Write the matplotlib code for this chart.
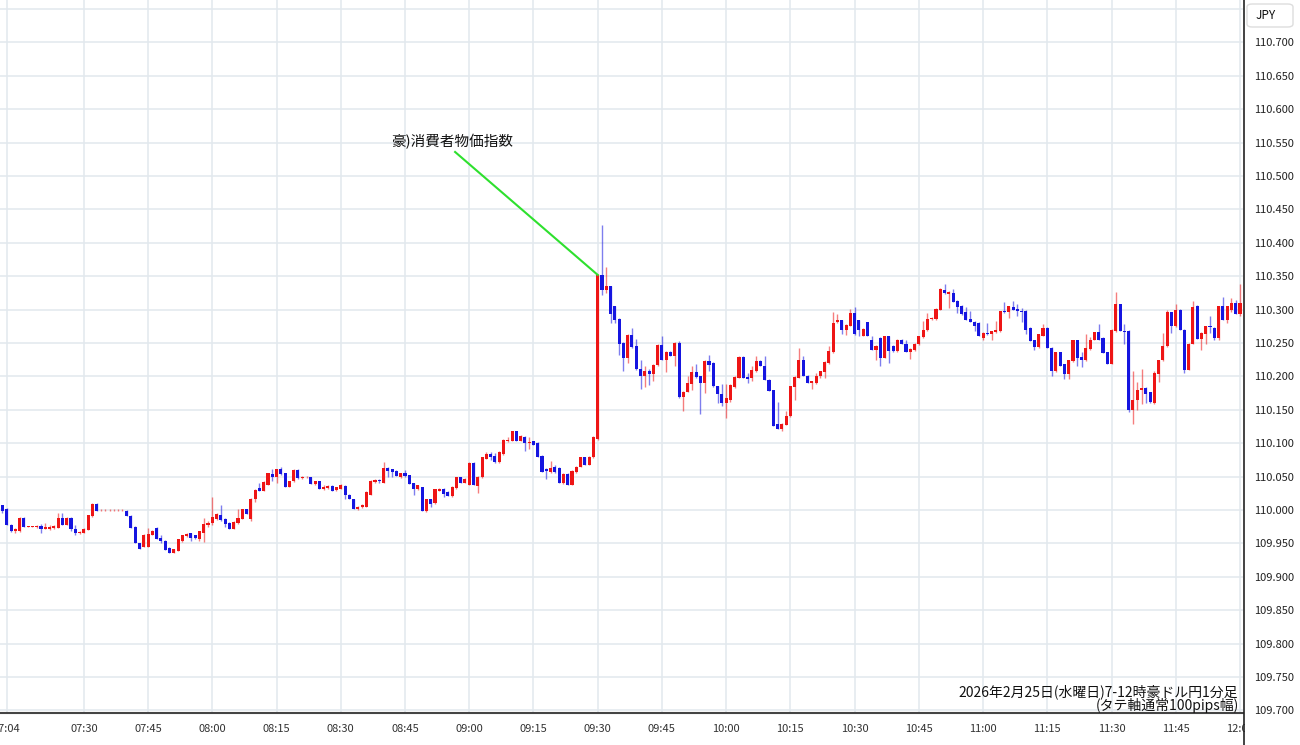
import matplotlib.pyplot as plt
import numpy as np
from matplotlib.lines import Line2D
from matplotlib.patches import FancyBboxPatch, Rectangle

plt.rcParams['font.family'] = ['Noto Sans CJK JP', 'DejaVu Sans']

# 1-minute AUD/JPY candles, first candle = 07:11
opens = [
    110.007, 110.002, 109.978, 109.969, 109.968, 109.988, 109.975, 109.975, 109.975, 109.976,
    109.972, 109.972, 109.973, 109.973, 109.988, 109.978, 109.988, 109.971, 109.965, 109.966,
    109.970, 109.991, 110.009, 110.000, 110.000, 110.000, 110.000, 110.000, 110.000, 109.999,
    109.991, 109.975, 109.950, 109.945, 109.945, 109.963, 109.973, 109.958, 109.954, 109.943,
    109.936, 109.939, 109.953, 109.961, 109.965, 109.962, 109.956, 109.966, 109.977, 109.980,
    109.986, 109.992, 109.987, 109.981, 109.972, 109.980, 109.987, 110.001, 109.987, 110.017,
    110.033, 110.029, 110.038, 110.054, 110.050, 110.061, 110.055, 110.035, 110.043, 110.060,
    110.048, 110.049, 110.049, 110.039, 110.043, 110.031, 110.033, 110.036, 110.030, 110.032,
    110.036, 110.023, 110.016, 110.002, 110.004, 110.005, 110.023, 110.042, 110.044, 110.041,
    110.063, 110.061, 110.059, 110.049, 110.056, 110.052, 110.040, 110.031, 110.034, 109.998,
    110.016, 110.010, 110.029, 110.032, 110.027, 110.021, 110.033, 110.049, 110.041, 110.038,
    110.071, 110.036, 110.049, 110.077, 110.084, 110.081, 110.072, 110.084, 110.103, 110.104,
    110.118, 110.104, 110.110, 110.101, 110.103, 110.101, 110.081, 110.062, 110.057, 110.064,
    110.063, 110.040, 110.054, 110.038, 110.057, 110.065, 110.079, 110.068, 110.079, 110.106,
    110.352, 110.330, 110.335, 110.305, 110.286, 110.250, 110.228, 110.262, 110.245, 110.211,
    110.200, 110.208, 110.204, 110.217, 110.247, 110.225, 110.237, 110.231, 110.250, 110.169,
    110.177, 110.188, 110.207, 110.200, 110.190, 110.223, 110.220, 110.185, 110.174, 110.160,
    110.165, 110.184, 110.198, 110.229, 110.199, 110.198, 110.208, 110.223, 110.215, 110.195,
    110.179, 110.129, 110.122, 110.128, 110.140, 110.184, 110.198, 110.225, 110.201, 110.190,
    110.190, 110.200, 110.206, 110.220, 110.236, 110.281, 110.284, 110.269, 110.276, 110.295,
    110.284, 110.261, 110.281, 110.255, 110.239, 110.258, 110.228, 110.260, 110.246, 110.238,
    110.255, 110.249, 110.236, 110.239, 110.248, 110.259, 110.269, 110.286, 110.286, 110.300,
    110.329, 110.324, 110.325, 110.313, 110.306, 110.296, 110.286, 110.282, 110.280, 110.258,
    110.265, 110.263, 110.266, 110.268, 110.298, 110.296, 110.304, 110.301, 110.298, 110.298,
    110.273, 110.254, 110.244, 110.261, 110.273, 110.243, 110.208, 110.236, 110.218, 110.204,
    110.223, 110.254, 110.229, 110.224, 110.241, 110.255, 110.266, 110.258, 110.236, 110.219,
    110.268, 110.308, 110.268, 110.268, 110.150, 110.164, 110.180, 110.183, 110.176, 110.160,
    110.204, 110.224, 110.245, 110.296, 110.275, 110.300, 110.270, 110.210, 110.249, 110.306,
    110.256, 110.263, 110.275, 110.273, 110.258, 110.305, 110.285, 110.300, 110.310, 110.294,
    110.310,
]
highs = [
    110.008, 110.003, 109.979, 109.973, 109.989, 109.989, 109.976, 109.976, 109.977, 109.979,
    109.980, 109.978, 109.977, 109.996, 109.996, 109.989, 109.989, 109.978, 109.968, 109.973,
    109.993, 110.010, 110.010, 110.001, 110.001, 110.001, 110.001, 110.001, 110.001, 110.000,
    109.992, 109.976, 109.951, 109.964, 109.973, 109.970, 109.974, 109.963, 109.955, 109.944,
    109.942, 109.957, 109.963, 109.965, 109.966, 109.963, 109.969, 109.988, 109.984, 110.020,
    109.995, 110.008, 109.988, 109.982, 109.983, 110.001, 110.002, 110.002, 110.018, 110.031,
    110.041, 110.043, 110.056, 110.061, 110.062, 110.064, 110.056, 110.044, 110.061, 110.061,
    110.051, 110.051, 110.050, 110.044, 110.044, 110.037, 110.037, 110.037, 110.035, 110.039,
    110.037, 110.024, 110.017, 110.006, 110.009, 110.028, 110.045, 110.046, 110.047, 110.072,
    110.064, 110.062, 110.060, 110.056, 110.060, 110.053, 110.041, 110.038, 110.035, 110.016,
    110.017, 110.031, 110.033, 110.033, 110.028, 110.036, 110.050, 110.050, 110.048, 110.072,
    110.072, 110.051, 110.080, 110.087, 110.087, 110.086, 110.088, 110.106, 110.109, 110.119,
    110.119, 110.112, 110.111, 110.109, 110.104, 110.102, 110.082, 110.063, 110.073, 110.067,
    110.064, 110.055, 110.055, 110.060, 110.066, 110.080, 110.080, 110.081, 110.111, 110.353,
    110.426, 110.364, 110.336, 110.306, 110.287, 110.251, 110.263, 110.273, 110.256, 110.225,
    110.215, 110.211, 110.218, 110.248, 110.260, 110.238, 110.238, 110.252, 110.253, 110.178,
    110.200, 110.216, 110.219, 110.201, 110.224, 110.232, 110.221, 110.186, 110.188, 110.188,
    110.188, 110.200, 110.230, 110.230, 110.205, 110.216, 110.231, 110.224, 110.231, 110.196,
    110.180, 110.161, 110.130, 110.148, 110.186, 110.200, 110.242, 110.231, 110.202, 110.193,
    110.205, 110.208, 110.223, 110.245, 110.296, 110.293, 110.285, 110.278, 110.301, 110.304,
    110.285, 110.272, 110.282, 110.260, 110.247, 110.259, 110.261, 110.261, 110.247, 110.256,
    110.256, 110.255, 110.242, 110.250, 110.261, 110.283, 110.295, 110.289, 110.302, 110.332,
    110.338, 110.328, 110.331, 110.314, 110.307, 110.304, 110.298, 110.283, 110.281, 110.266,
    110.280, 110.268, 110.283, 110.298, 110.311, 110.306, 110.313, 110.308, 110.303, 110.299,
    110.274, 110.255, 110.263, 110.278, 110.274, 110.244, 110.237, 110.237, 110.219, 110.225,
    110.255, 110.255, 110.236, 110.263, 110.259, 110.266, 110.278, 110.259, 110.237, 110.271,
    110.326, 110.309, 110.278, 110.269, 110.208, 110.191, 110.211, 110.184, 110.177, 110.208,
    110.225, 110.265, 110.299, 110.297, 110.308, 110.301, 110.271, 110.250, 110.313, 110.307,
    110.266, 110.276, 110.290, 110.274, 110.306, 110.319, 110.306, 110.318, 110.315, 110.338,
    110.316,
]
lows = [
    109.995, 109.977, 109.967, 109.966, 109.967, 109.975, 109.974, 109.974, 109.973, 109.966,
    109.971, 109.970, 109.971, 109.973, 109.977, 109.977, 109.968, 109.963, 109.964, 109.965,
    109.970, 109.990, 109.999, 109.999, 109.999, 109.999, 109.999, 109.999, 109.999, 109.991,
    109.973, 109.950, 109.941, 109.944, 109.944, 109.962, 109.956, 109.950, 109.940, 109.936,
    109.935, 109.938, 109.952, 109.960, 109.953, 109.957, 109.953, 109.952, 109.975, 109.977,
    109.985, 109.983, 109.975, 109.972, 109.971, 109.979, 109.986, 109.994, 109.983, 110.012,
    110.028, 110.028, 110.037, 110.043, 110.041, 110.053, 110.035, 110.034, 110.042, 110.047,
    110.047, 110.048, 110.039, 110.038, 110.031, 110.030, 110.032, 110.029, 110.029, 110.031,
    110.016, 110.016, 110.002, 110.000, 110.003, 110.004, 110.022, 110.041, 110.041, 110.040,
    110.050, 110.050, 110.051, 110.048, 110.050, 110.039, 110.023, 110.030, 109.998, 109.997,
    110.005, 110.009, 110.028, 110.019, 110.021, 110.020, 110.032, 110.041, 110.040, 110.037,
    110.038, 110.026, 110.048, 110.076, 110.075, 110.071, 110.071, 110.083, 110.102, 110.103,
    110.104, 110.103, 110.089, 110.091, 110.098, 110.079, 110.057, 110.046, 110.056, 110.056,
    110.040, 110.039, 110.038, 110.037, 110.056, 110.064, 110.068, 110.067, 110.078, 110.105,
    110.322, 110.325, 110.280, 110.280, 110.232, 110.208, 110.220, 110.243, 110.210, 110.181,
    110.184, 110.187, 110.193, 110.216, 110.224, 110.206, 110.230, 110.216, 110.168, 110.148,
    110.176, 110.180, 110.198, 110.144, 110.175, 110.208, 110.184, 110.160, 110.156, 110.138,
    110.161, 110.183, 110.197, 110.197, 110.190, 110.193, 110.207, 110.215, 110.195, 110.178,
    110.126, 110.121, 110.118, 110.127, 110.139, 110.165, 110.197, 110.201, 110.190, 110.181,
    110.189, 110.197, 110.197, 110.219, 110.235, 110.280, 110.264, 110.262, 110.275, 110.262,
    110.260, 110.260, 110.260, 110.239, 110.224, 110.215, 110.227, 110.220, 110.237, 110.237,
    110.248, 110.236, 110.226, 110.238, 110.247, 110.258, 110.268, 110.285, 110.285, 110.299,
    110.324, 110.303, 110.311, 110.295, 110.292, 110.284, 110.281, 110.268, 110.260, 110.255,
    110.262, 110.255, 110.265, 110.267, 110.295, 110.288, 110.299, 110.290, 110.281, 110.264,
    110.253, 110.239, 110.243, 110.260, 110.243, 110.200, 110.207, 110.216, 110.196, 110.196,
    110.222, 110.216, 110.214, 110.223, 110.240, 110.254, 110.254, 110.235, 110.219, 110.218,
    110.267, 110.268, 110.249, 110.146, 110.129, 110.150, 110.158, 110.160, 110.160, 110.159,
    110.191, 110.223, 110.244, 110.265, 110.274, 110.270, 110.205, 110.209, 110.248, 110.256,
    110.240, 110.248, 110.265, 110.254, 110.254, 110.284, 110.280, 110.296, 110.294, 110.291,
    110.309,
]
closes = [
    109.999, 109.978, 109.968, 109.971, 109.988, 109.975, 109.975, 109.975, 109.975, 109.972,
    109.974, 109.975, 109.976, 109.988, 109.977, 109.988, 109.971, 109.965, 109.967, 109.971,
    109.992, 110.009, 109.999, 110.000, 110.000, 110.000, 110.000, 110.000, 110.000, 109.991,
    109.973, 109.950, 109.942, 109.963, 109.964, 109.969, 109.956, 109.953, 109.940, 109.936,
    109.941, 109.956, 109.962, 109.964, 109.958, 109.958, 109.968, 109.979, 109.981, 109.989,
    109.994, 109.985, 109.979, 109.972, 109.982, 109.988, 110.001, 109.994, 110.017, 110.030,
    110.029, 110.042, 110.055, 110.049, 110.061, 110.054, 110.035, 110.043, 110.060, 110.048,
    110.050, 110.050, 110.039, 110.043, 110.031, 110.035, 110.036, 110.029, 110.034, 110.038,
    110.023, 110.016, 110.002, 110.005, 110.008, 110.027, 110.044, 110.045, 110.0435, 110.063,
    110.058, 110.057, 110.051, 110.055, 110.051, 110.039, 110.031, 110.037, 109.998, 110.016,
    110.009, 110.031, 110.032, 110.024, 110.021, 110.035, 110.049, 110.041, 110.047, 110.071,
    110.038, 110.050, 110.079, 110.084, 110.079, 110.072, 110.087, 110.105, 110.105, 110.118,
    110.104, 110.111, 110.101, 110.102, 110.098, 110.079, 110.057, 110.059, 110.063, 110.057,
    110.040, 110.054, 110.038, 110.059, 110.065, 110.079, 110.068, 110.080, 110.110, 110.352,
    110.330, 110.335, 110.293, 110.285, 110.248, 110.228, 110.262, 110.244, 110.211, 110.200,
    110.208, 110.204, 110.217, 110.247, 110.225, 110.237, 110.231, 110.250, 110.169, 110.177,
    110.190, 110.207, 110.199, 110.190, 110.223, 110.217, 110.185, 110.173, 110.160, 110.168,
    110.187, 110.199, 110.229, 110.198, 110.196, 110.210, 110.223, 110.215, 110.195, 110.178,
    110.126, 110.122, 110.129, 110.141, 110.185, 110.199, 110.225, 110.201, 110.190, 110.193,
    110.201, 110.208, 110.222, 110.238, 110.280, 110.284, 110.269, 110.277, 110.295, 110.263,
    110.270, 110.271, 110.260, 110.239, 110.246, 110.228, 110.260, 110.238, 110.238, 110.255,
    110.248, 110.236, 110.241, 110.249, 110.260, 110.269, 110.286, 110.288, 110.301, 110.331,
    110.325, 110.327, 110.311, 110.304, 110.293, 110.284, 110.281, 110.275, 110.260, 110.265,
    110.263, 110.268, 110.270, 110.298, 110.296, 110.305, 110.300, 110.298, 110.296, 110.270,
    110.253, 110.244, 110.263, 110.273, 110.243, 110.208, 110.236, 110.216, 110.204, 110.224,
    110.254, 110.228, 110.225, 110.243, 110.255, 110.266, 110.254, 110.235, 110.219, 110.270,
    110.308, 110.268, 110.266, 110.150, 110.165, 110.180, 110.183, 110.174, 110.162, 110.205,
    110.224, 110.246, 110.296, 110.275, 110.300, 110.270, 110.210, 110.249, 110.304, 110.256,
    110.265, 110.275, 110.274, 110.258, 110.305, 110.285, 110.305, 110.310, 110.294, 110.310,
    110.315,
]

# minute index (from 07:11) of each labelled grid line
tick_pos = [1, 19, 34, 49, 64, 79, 94, 109, 124, 139, 154, 169, 184, 199, 214, 229, 244, 259, 274, 289]
tick_labels = ['07:04', '07:30', '07:45', '08:00', '08:15', '08:30', '08:45', '09:00', '09:15', '09:30',
               '09:45', '10:00', '10:15', '10:30', '10:45', '11:00', '11:15', '11:30', '11:45', '12:00']
price_ticks = [109.70, 109.75, 109.80, 109.85, 109.90, 109.95, 110.00, 110.05, 110.10, 110.15, 110.20,
               110.25, 110.30, 110.35, 110.40, 110.45, 110.50, 110.55, 110.60, 110.65, 110.70]

event_label = '豪)消費者物価指数'
event_idx = 139
event_text_pos = (105.0, 110.551)
event_line_start = (105.7, 110.536)
caption = ['2026年2月25日(水曜日)7-12時豪ドル円1分足', '(タテ軸通常100pips幅)']

W, H = 1300, 745
fig = plt.figure(figsize=(W / 100, H / 100), dpi=100)
ax = fig.add_axes([0, 32 / H, 1243 / W, 713 / H])

x = np.arange(len(opens))
o = np.array(opens)
c = np.array(closes)
hi = np.array(highs)
lo = np.array(lows)
colors = np.where(c >= o, '#ee1515', '#1515e0')

# wicks, then bodies
ax.vlines(x, lo, hi, colors=colors, lw=1.0, alpha=0.55, zorder=2)
body = np.maximum(np.abs(c - o), 0.0012)
ax.bar(x, body, bottom=(o + c) / 2 - body / 2, width=0.72, color=colors, lw=0, zorder=3)

ax.set_xlim(-0.58, 289.7)
ax.set_ylim(109.6961, 110.7635)

ax.set_xticks(tick_pos)
ax.set_xticklabels(tick_labels)
ax.set_yticks(price_ticks)
ax.set_yticklabels([f'{p:.3f}' for p in price_ticks])
ax.yaxis.tick_right()
ax.grid(True, color='#e2e8ee', lw=1.1)
ax.axhline(110.75, color='#e2e8ee', lw=1.1, zorder=0)
ax.set_axisbelow(True)
ax.tick_params(axis='x', length=0, pad=8, labelsize=8, colors='#333333')
ax.tick_params(axis='y', length=0, pad=8, labelsize=8, colors='#222222')
for side in ['top', 'left', 'right']:
    ax.spines[side].set_visible(False)
ax.spines['bottom'].set_color('#444444')
ax.spines['bottom'].set_linewidth(1.5)

# event annotation
ax.text(*event_text_pos, event_label, ha='center', va='center', fontsize=10.5, color='#111111')
ax.plot([event_line_start[0], event_idx], [event_line_start[1], closes[event_idx]],
        color='#2ee02e', lw=1.5, zorder=4)

# caption at lower right
fig.text(1238 / W, 1 - 692 / H, caption[0], ha='right', va='center', fontsize=10, color='#111111')
fig.text(1239 / W, 1 - 705.5 / H, caption[1], ha='right', va='center', fontsize=10, color='#111111')

# right price panel: hide overflow of last time label, divider line, JPY box
fig.add_artist(Rectangle((1244.5 / W, 0), 60 / W, 29 / H, transform=fig.transFigure,
                         facecolor='white', edgecolor='none'))
fig.add_artist(Line2D([1243.5 / W, 1243.5 / W], [0, 1], color='#222222', lw=1.2))
fig.add_artist(FancyBboxPatch((1247 / W, 1 - 27 / H), 46 / W, 23 / H,
                              boxstyle='round,pad=0,rounding_size=0.004', transform=fig.transFigure,
                              facecolor='white', edgecolor='#dddddd', lw=1))
fig.text(1266 / W, 1 - 15.5 / H, 'JPY', ha='center', va='center', fontsize=8.5, color='#111111')

fig.savefig('out.png', dpi=100)
